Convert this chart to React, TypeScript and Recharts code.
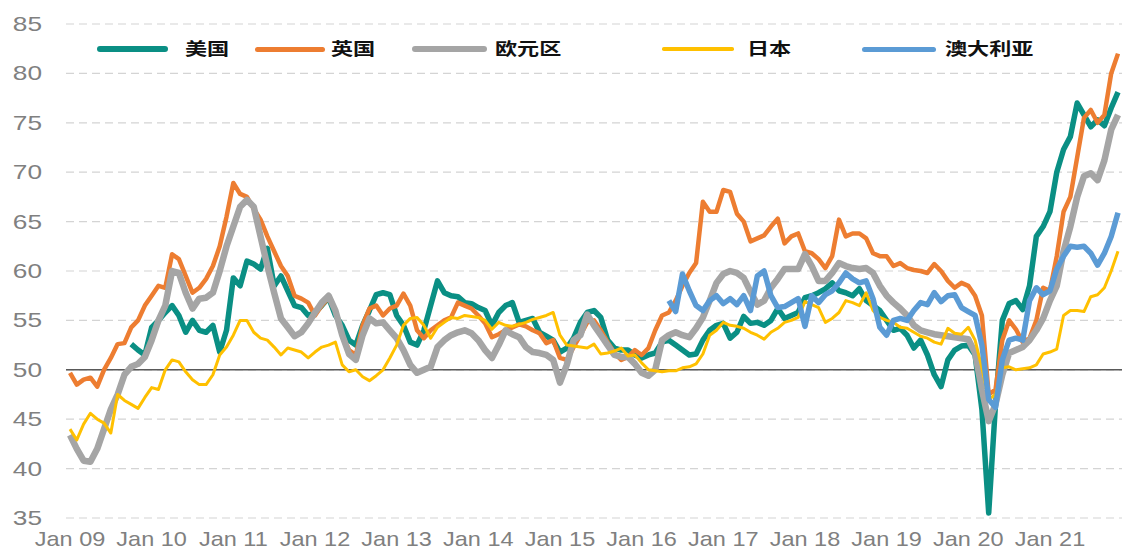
import React from 'react';
import { LineChart, Line, XAxis, YAxis, CartesianGrid, ReferenceLine, Legend } from 'recharts';

const MONTHS = ['Jan', 'Feb', 'Mar', 'Apr', 'May', 'Jun', 'Jul', 'Aug', 'Sep', 'Oct', 'Nov', 'Dec'];
const YEARS = ['09', '10', '11', '12', '13', '14', '15', '16', '17', '18', '19', '20', '21'];
const categories: string[] = YEARS.flatMap((y) => MONTHS.map((m) => `${m} ${y}`)).slice(0, 155);
const tickLabels: string[] = YEARS.map((y) => `Jan ${y}`);
const yTicks = [35, 40, 45, 50, 55, 60, 65, 70, 75, 80, 85];

const N = null;

// 美国
const usValues: (number | null)[] = [
  N, N, N, N, N, N, N, N, N, 52.6, 52.0, 51.5,
  54.3, 55.0, 55.8, 56.5, 55.5, 53.8, 55.0, 54.0, 53.8, 54.5, 51.8, 54.0,
  59.3, 58.5, 61.0, 60.7, 60.2, 62.3, 58.5, 59.5, 58.0, 56.5, 56.3, 55.5,
  55.8, 56.5, 57.3, 55.5, 54.5, 53.0, 52.5, 54.5, 56.0, 57.6, 57.8, 57.6,
  55.5, 54.5, 52.8, 52.5, 54.0, 56.5, 59.0, 57.8, 57.5, 57.4, 56.8, 56.7,
  56.3, 56.0, 54.5, 55.8, 56.5, 56.8, 54.8, 55.0, 55.2, 53.8, 53.4, 53.0,
  51.8, 52.2, 53.2, 54.8, 55.8, 56.0, 55.3, 53.0, 52.2, 52.0, 52.0, 51.5,
  51.2, 51.5, 51.7, 52.8, 53.0, 52.5, 52.0, 51.5, 51.6, 53.0, 54.0, 54.5,
  54.7, 53.2, 53.8, 55.4, 54.7, 54.8, 54.5, 55.0, 56.2, 55.2, 55.5, 55.8,
  57.3, 57.5, 57.8, 58.2, 58.8, 58.0, 57.8, 57.5, 58.2, 57.0, 56.5, 56.0,
  55.0, 54.0, 54.2, 53.5, 52.2, 53.0, 51.5, 49.5, 48.3, 51.0, 52.0, 52.4,
  52.5, 51.5, 46.0, 35.5, 46.5, 55.0, 56.7, 57.0, 56.1, 58.5, 63.5, 64.5,
  66.0, 70.0, 72.3, 73.6, 77.0, 75.8, 74.6, 75.3, 74.7, 76.5, 78.1,
];

// 英国
const ukValues: number[] = [
  49.7, 48.5, 49.0, 49.2, 48.3, 50.0, 51.2, 52.6, 52.7, 54.3, 55.0, 56.5,
  57.5, 58.5, 58.3, 61.7, 61.2, 59.5, 57.8, 58.3, 59.2, 60.5, 62.5, 65.5,
  68.9, 67.8, 67.5, 66.3, 65.2, 63.5, 62.0, 60.5, 59.5, 57.5, 57.2, 56.8,
  55.5, 56.5, 57.3, 56.0, 53.5, 52.0, 51.5, 54.5, 56.2, 56.5, 55.5, 56.2,
  56.5, 57.7, 56.5, 54.0, 53.2, 54.0, 54.5, 55.0, 55.3, 56.8, 56.5, 56.2,
  55.5, 54.7, 53.3, 53.6, 54.0, 54.3, 54.6, 54.4, 54.0, 53.7, 52.7, 53.0,
  51.2, 51.0, 52.3, 53.5, 54.8, 55.0, 54.0, 52.8, 51.7, 51.0, 51.3, 52.0,
  51.5, 52.2, 54.0, 55.5, 55.8, 57.0, 58.5, 59.8, 60.8, 67.0, 66.0, 66.0,
  68.2, 68.0, 65.8, 65.0, 63.0, 63.3, 63.6, 64.5, 65.3, 62.8, 63.5, 63.8,
  62.0, 61.8, 61.2, 60.3, 61.5, 65.2, 63.5, 63.8, 63.8, 63.3, 61.8, 61.5,
  61.5, 60.5, 60.8, 60.3, 60.1, 60.0, 59.8, 60.7, 60.0, 59.0, 58.3, 58.8,
  58.5, 57.5, 55.5, 47.5, 48.0, 53.0, 55.0, 54.1, 52.8, 53.2, 55.0, 58.3,
  58.0, 61.5, 66.0, 67.5, 71.5, 75.5, 76.3, 75.0, 75.8, 80.0, 82.0,
];

// 欧元区
const ezValues: number[] = [
  43.4, 42.0, 40.8, 40.7, 42.0, 44.0, 46.0, 47.5, 49.5, 50.3, 50.6, 51.3,
  53.0, 55.0, 56.5, 60.0, 59.8, 57.8, 56.2, 57.2, 57.3, 57.8, 60.0, 62.5,
  64.5, 66.5, 67.2, 66.5, 63.5, 60.5, 57.8, 55.2, 54.3, 53.4, 53.8, 54.7,
  55.8, 56.8, 57.5, 56.0, 53.5, 51.6, 51.0, 53.5, 55.2, 54.7, 54.8, 54.0,
  53.2, 52.0, 50.5, 49.7, 50.0, 50.3, 52.3, 53.0, 53.5, 53.8, 54.0, 53.7,
  53.0, 52.0, 51.2, 52.5, 54.0, 53.6, 53.3, 52.3, 51.8, 51.7, 51.5, 51.0,
  48.7, 50.5, 53.0, 53.5, 55.6, 54.5, 53.5, 52.5, 51.5, 51.3, 51.3, 50.6,
  49.7, 49.4, 50.0, 53.0, 53.5, 53.8, 53.5, 53.3, 54.2, 55.3, 57.0, 58.8,
  59.7, 60.0, 59.8, 59.3, 57.9, 56.6, 57.0, 58.3, 59.2, 60.2, 60.2, 60.2,
  61.7, 60.5, 59.0, 59.0, 59.8, 60.8, 60.5, 60.3, 60.2, 60.3, 59.8, 58.5,
  57.5, 56.8, 56.2, 55.5, 54.5, 54.0, 53.8, 53.6, 53.5, 53.4, 53.3, 53.2,
  53.1, 51.7, 48.0, 44.8, 46.5, 49.5, 51.7, 52.0, 52.3, 53.0, 54.0, 55.2,
  57.0, 58.5, 62.0, 64.5, 67.5, 69.6, 69.9, 69.2, 71.2, 74.3, 75.8,
];

// 日本
const jpValues: number[] = [
  44.0, 42.9, 44.5, 45.6, 45.0, 44.6, 43.6, 47.5, 46.9, 46.5, 46.1, 47.2,
  48.2, 48.0, 50.0, 51.0, 50.8, 49.8, 49.0, 48.5, 48.5, 49.5, 51.5, 52.3,
  53.5, 55.0, 55.0, 53.8, 53.2, 53.0, 52.3, 51.5, 52.2, 52.0, 51.8, 51.2,
  51.8, 52.3, 52.5, 52.8, 50.5, 49.8, 50.0, 49.3, 48.9, 49.4, 50.0, 51.2,
  52.5, 54.5, 55.2, 55.3, 54.5, 53.2, 54.3, 54.8, 55.3, 55.2, 55.5, 55.4,
  55.3, 55.0, 54.1, 54.8, 54.5, 54.4, 54.6, 54.8, 55.1, 55.3, 55.5, 55.8,
  53.5, 52.5, 52.4, 52.3, 52.2, 52.6, 51.6, 51.7, 51.9, 52.2, 51.4, 51.5,
  50.7, 50.0, 49.9, 49.8, 49.9, 49.9, 50.2, 50.3, 50.6, 51.6, 53.5, 54.0,
  54.8, 54.5, 54.4, 54.2, 53.8, 53.5, 53.1, 53.8, 54.2, 54.8, 55.0, 55.3,
  56.9, 56.6, 56.3, 54.8, 55.2, 55.8, 57.0, 56.8, 56.5, 57.8, 56.0, 55.3,
  55.0, 54.8, 54.3, 54.2, 53.8, 53.4, 53.2, 52.8, 52.6, 54.2, 53.7, 53.6,
  54.3, 53.0, 50.2, 47.0, 47.5, 50.2, 50.3, 50.0, 50.1, 50.2, 50.5, 51.6,
  51.8, 52.1, 55.5, 56.0, 56.0, 55.9, 57.4, 57.6, 58.3, 60.0, 62.0,
];

// 澳大利亚
const auValues: (number | null)[] = [
  N, N, N, N, N, N, N, N, N, N, N, N,
  N, N, N, N, N, N, N, N, N, N, N, N,
  N, N, N, N, N, N, N, N, N, N, N, N,
  N, N, N, N, N, N, N, N, N, N, N, N,
  N, N, N, N, N, N, N, N, N, N, N, N,
  N, N, N, N, N, N, N, N, N, N, N, N,
  N, N, N, N, N, N, N, N, N, N, N, N,
  N, N, N, N, 57.0, 55.9, 59.7, 58.0, 56.5, 56.0, 57.0, 57.5,
  56.7, 57.2, 56.6, 57.5, 56.0, 59.5, 60.0, 57.5, 56.3, 56.4, 56.8, 57.2,
  54.4, 57.5, 56.8, 57.6, 58.0, 58.8, 59.8, 59.2, 58.8, 59.0, 57.2, 54.3,
  53.5, 55.0, 55.2, 55.0, 56.0, 56.8, 56.6, 57.8, 56.9, 57.5, 57.6, 56.3,
  55.9, 55.5, 52.5, 47.0, 46.2, 51.0, 53.0, 53.2, 53.0, 57.0, 58.3, 57.6,
  58.0, 60.2, 61.5, 62.5, 62.4, 62.5, 61.8, 60.6, 61.8, 63.5, 65.9,
];

const data = categories.map((month, i) => ({
  month,
  us: usValues[i],
  uk: ukValues[i],
  ez: ezValues[i],
  jp: jpValues[i],
  au: auValues[i],
}));

const seriesNames = ['美国', '英国', '欧元区', '日本', '澳大利亚'];
const seriesKeys = ['us', 'uk', 'ez', 'jp', 'au'];
const colors = ['#0a8f84', '#ED7D31', '#A5A5A5', '#FFC000', '#5B9BD5'];
const widths = [5.5, 4.5, 6.5, 3, 5.5];

const legendLayout = [
  { lineX: 97, lineW: 71, thick: 6, textX: 185 },
  { lineX: 255, lineW: 70, thick: 5, textX: 331 },
  { lineX: 412, lineW: 75, thick: 6, textX: 495 },
  { lineX: 662, lineW: 72, thick: 3.5, textX: 747 },
  { lineX: 862, lineW: 74, thick: 5, textX: 945 },
];

const axisFont = 'Liberation Sans, Arial, sans-serif';

const YTick = (props: any) => {
  const { x, y, payload } = props;
  return (
    <g transform={`translate(${x},${y})`}>
      <text x={0} y={0} dy={7} textAnchor="end" fontSize={21} fill="#808080" fontFamily={axisFont} transform="scale(1.25,1)">
        {payload.value}
      </text>
    </g>
  );
};

const XTick = (props: any) => {
  const { x, y, payload } = props;
  return (
    <g transform={`translate(${x},${y})`}>
      <text x={0} y={0} dy={28} textAnchor="middle" fontSize={21} fill="#808080" fontFamily={axisFont} transform="scale(1.12,1)">
        {payload.value}
      </text>
    </g>
  );
};

const LegendContent = () => (
  <div style={{ position: 'relative', width: 1122, height: 0 }}>
    {legendLayout.map((l, i) => (
      <React.Fragment key={seriesKeys[i]}>
        <div
          style={{
            position: 'absolute',
            left: l.lineX,
            top: 49 - l.thick / 2,
            width: l.lineW,
            height: l.thick,
            borderRadius: l.thick / 2,
            background: colors[i],
          }}
        />
        <span
          style={{
            position: 'absolute',
            left: l.textX,
            top: 37,
            fontFamily: '"Noto Sans CJK SC", sans-serif',
            fontWeight: 700,
            fontSize: 17,
            lineHeight: '22px',
            color: '#111',
            whiteSpace: 'nowrap',
            transform: 'scaleX(1.3)',
            transformOrigin: 'left center',
          }}
        >
          {seriesNames[i]}
        </span>
      </React.Fragment>
    ))}
  </div>
);

export default function App() {
  return (
    <div style={{ position: 'absolute', left: 0, top: 0, width: 1122, height: 550, background: '#fff' }}>
      <LineChart width={1122} height={550} data={data} margin={{ top: 24, right: 0, bottom: 0, left: 0 }}>
        <CartesianGrid vertical={false} stroke="#d4d4d4" strokeDasharray="8 5" strokeWidth={1.2} />
        <XAxis
          dataKey="month"
          ticks={tickLabels}
          interval={0}
          height={32}
          tickSize={0}
          tickMargin={0}
          axisLine={false}
          tickLine={false}
          padding={{ left: 4, right: 4 }}
          tick={<XTick />}
        />
        <YAxis
          domain={[35, 85]}
          ticks={yTicks}
          width={66}
          tickSize={0}
          tickMargin={24}
          axisLine={false}
          tickLine={false}
          tick={<YTick />}
          allowDataOverflow
        />
        <ReferenceLine y={50} stroke="#595959" strokeWidth={1.5} />
        <Legend verticalAlign="top" content={<LegendContent />} wrapperStyle={{ left: 0, top: 0, width: 1122, height: 0 }} />
        {seriesKeys.map((k, i) => (
          <Line
            key={k}
            type="linear"
            dataKey={k}
            name={seriesNames[i]}
            stroke={colors[i]}
            strokeWidth={widths[i]}
            dot={false}
            activeDot={false}
            strokeLinejoin="round"
            isAnimationActive={false}
          />
        ))}
      </LineChart>
    </div>
  );
}
